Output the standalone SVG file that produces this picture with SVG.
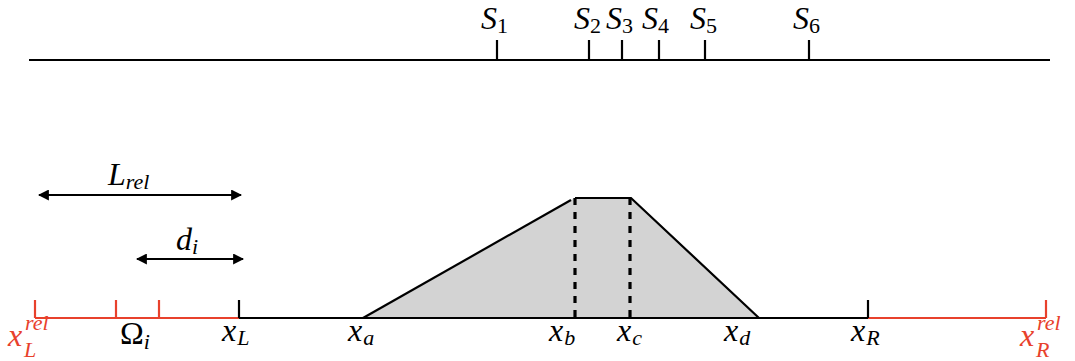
<svg xmlns="http://www.w3.org/2000/svg" width="1075" height="361" viewBox="0 0 1075 361">
<style>
.ln{stroke:#000;stroke-width:2.2;fill:none}
.rd{stroke:#e8412c;stroke-width:2.2;fill:none}
.s{font-size:22px}
.up{font-style:normal}
.red{fill:#e8412c}
</style>
<defs>
<marker id="ah" viewBox="0 0 10 10" refX="9" refY="5" markerWidth="5" markerHeight="5" orient="auto-start-reverse" markerUnits="strokeWidth">
<path d="M0,0 L10,5 L0,10 z" fill="#000"/>
</marker>
</defs>
<g font-family="Liberation Serif, serif" font-size="32" font-style="italic" fill="#000">
<g id="timeline">
<line class="ln" x1="29" y1="60" x2="1050" y2="60"/>
<g class="ln">
<line x1="497" y1="40" x2="497" y2="60"/>
<line x1="589" y1="40" x2="589" y2="60"/>
<line x1="622" y1="40" x2="622" y2="60"/>
<line x1="659" y1="40" x2="659" y2="60"/>
<line x1="705" y1="40" x2="705" y2="60"/>
<line x1="809" y1="40" x2="809" y2="60"/>
</g>
<text x="481" y="29">S<tspan class="s up" dy="4">1</tspan></text>
<text x="574" y="29">S<tspan class="s up" dy="4">2</tspan></text>
<text x="606" y="29">S<tspan class="s up" dy="4">3</tspan></text>
<text x="642" y="29">S<tspan class="s up" dy="4">4</tspan></text>
<text x="690" y="29">S<tspan class="s up" dy="4">5</tspan></text>
<text x="793" y="29">S<tspan class="s up" dy="4">6</tspan></text>
</g>
<g id="trapezoid">
<polygon points="363,318 574,198 631,198 759,318" fill="#d3d3d3"/>
<polyline class="ln" points="363,318 571,200"/>
<polyline class="ln" points="575,198 631,198 759,318"/>
<line x1="575" y1="198" x2="575" y2="318" stroke="#000" stroke-width="3.2" stroke-dasharray="7,7"/>
<line x1="630" y1="198" x2="630" y2="318" stroke="#000" stroke-width="3.2" stroke-dasharray="7,7"/>
</g>
<g id="axis">
<line class="rd" x1="35" y1="318" x2="239" y2="318"/>
<line class="ln" x1="239" y1="318" x2="868" y2="318"/>
<line class="rd" x1="868" y1="318" x2="1046" y2="318"/>
<g class="rd">
<line x1="35" y1="300" x2="35" y2="318"/>
<line x1="116" y1="300" x2="116" y2="318"/>
<line x1="159" y1="300" x2="159" y2="318"/>
<line x1="1046" y1="300" x2="1046" y2="318"/>
</g>
<g class="ln">
<line x1="239" y1="300" x2="239" y2="318"/>
<line x1="868" y1="300" x2="868" y2="318"/>
</g>
</g>
<g id="labels">
<text class="red" x="8" y="346">x</text>
<text class="red s" x="25" y="330">rel</text>
<text class="red s" x="24" y="357">L</text>
<text class="up" x="120" y="344">Ω<tspan class="s" font-style="italic" dy="5">i</tspan></text>
<text x="222" y="341">x<tspan class="s" dx="1" dy="4">L</tspan></text>
<text x="348" y="341">x<tspan class="s" dx="1" dy="4">a</tspan></text>
<text x="549" y="341">x<tspan class="s" dx="1" dy="4">b</tspan></text>
<text x="617" y="341">x<tspan class="s" dx="1" dy="4">c</tspan></text>
<text x="724" y="341">x<tspan class="s" dx="1" dy="4">d</tspan></text>
<text x="851" y="341">x<tspan class="s" dx="1" dy="4">R</tspan></text>
<text class="red" x="1020" y="346">x</text>
<text class="red s" x="1037" y="330">rel</text>
<text class="red s" x="1036" y="357">R</text>
</g>
<g id="connectors">
<line class="ln" x1="39" y1="195" x2="241" y2="195" marker-start="url(#ah)" marker-end="url(#ah)"/>
<line class="ln" x1="137" y1="259" x2="243" y2="259" marker-start="url(#ah)" marker-end="url(#ah)"/>
<text x="108" y="185">L<tspan class="s" dy="4">rel</tspan></text>
<text x="176" y="250">d<tspan class="s" dy="4">i</tspan></text>
</g>
</g>
</svg>
